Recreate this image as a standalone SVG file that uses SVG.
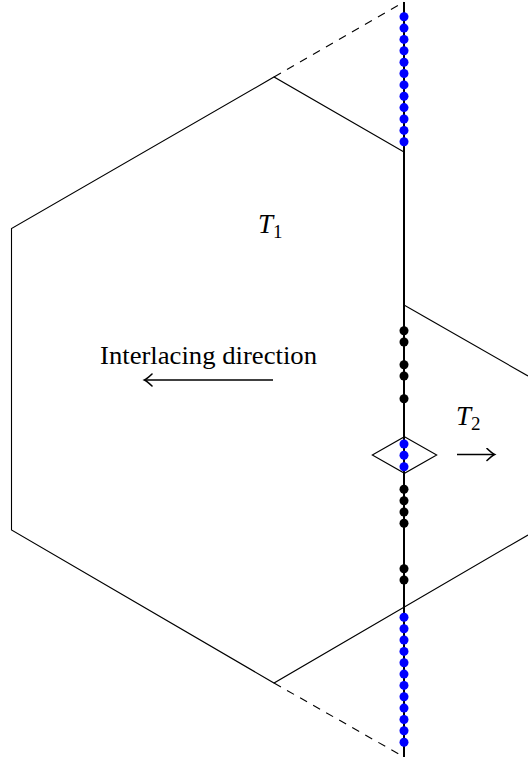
<svg xmlns="http://www.w3.org/2000/svg" width="528" height="759" viewBox="0 0 528 759">
<style>
.edge{fill:none;stroke:#000;stroke-width:1.1}
.dash{fill:none;stroke:#000;stroke-width:1.1;stroke-dasharray:8 7}
.axis{fill:none;stroke:#000;stroke-width:2}
.arr{fill:none;stroke:#000;stroke-width:1.7}
.b{fill:#0000ff}
.k{fill:#000}
</style>
<defs>
<marker id="ah" markerWidth="14" markerHeight="14" refX="0" refY="0" viewBox="-8 -7 10 14" orient="auto" markerUnits="userSpaceOnUse">
<path d="M -7 -6 Q -2 -1.2 0.6 0 Q -2 1.2 -7 6" fill="none" stroke="#000" stroke-width="1.6" stroke-linecap="round"/>
</marker>
</defs>
<g id="T1">
<path class="edge" d="M 404 152 L 274 77 L 11.5 228.5 L 11.5 530 L 274 683 L 528 535"/>
<path class="dash" d="M 274 77 L 404 2"/>
<path class="dash" d="M 274 683 L 404 757"/>
</g>
<g id="T2">
<path class="edge" d="M 404 305 L 528 376"/>
</g>
<g id="window">
<path class="edge" d="M 404.5 436.7 L 436.7 455 L 404.5 473.3 L 372.3 455 Z"/>
</g>
<g id="axis">
<line class="axis" x1="404" y1="2" x2="404" y2="757"/>
</g>
<g id="dots">
<g class="b">
<circle cx="404" cy="16.7" r="4.5"/><circle cx="404" cy="28.1" r="4.5"/><circle cx="404" cy="39.4" r="4.5"/><circle cx="404" cy="50.8" r="4.5"/><circle cx="404" cy="62.2" r="4.5"/><circle cx="404" cy="73.5" r="4.5"/><circle cx="404" cy="84.9" r="4.5"/><circle cx="404" cy="96.3" r="4.5"/><circle cx="404" cy="107.6" r="4.5"/><circle cx="404" cy="119" r="4.5"/><circle cx="404" cy="130.4" r="4.5"/><circle cx="404" cy="141.7" r="4.5"/>
<circle cx="404" cy="444" r="4.5"/><circle cx="404" cy="455.3" r="4.5"/><circle cx="404" cy="466.7" r="4.5"/>
<circle cx="404" cy="617.3" r="4.5"/><circle cx="404" cy="628.7" r="4.5"/><circle cx="404" cy="640" r="4.5"/><circle cx="404" cy="651.4" r="4.5"/><circle cx="404" cy="662.7" r="4.5"/><circle cx="404" cy="674.1" r="4.5"/><circle cx="404" cy="685.4" r="4.5"/><circle cx="404" cy="696.8" r="4.5"/><circle cx="404" cy="708.1" r="4.5"/><circle cx="404" cy="719.5" r="4.5"/><circle cx="404" cy="730.8" r="4.5"/><circle cx="404" cy="742.2" r="4.5"/>
</g>
<g class="k">
<circle cx="404" cy="330.7" r="4.5"/><circle cx="404" cy="342" r="4.5"/><circle cx="404" cy="364.7" r="4.5"/><circle cx="404" cy="376" r="4.5"/><circle cx="404" cy="398.7" r="4.5"/>
<circle cx="404" cy="489.3" r="4.5"/><circle cx="404" cy="500.7" r="4.5"/><circle cx="404" cy="512" r="4.5"/><circle cx="404" cy="523.3" r="4.5"/>
<circle cx="404" cy="568.7" r="4.5"/><circle cx="404" cy="580" r="4.5"/>
</g>
</g>
<g id="arrows">
<line class="arr" x1="273" y1="380" x2="145" y2="380" marker-end="url(#ah)"/>
<line class="arr" x1="457" y1="454.5" x2="494" y2="454.5" marker-end="url(#ah)"/>
</g>
<g id="labels">
<text x="100" y="364" font-family="'Liberation Serif', 'Times New Roman', serif" font-size="26" textLength="217" lengthAdjust="spacingAndGlyphs">Interlacing direction</text>
<text x="258" y="233" font-family="'Liberation Serif', 'Times New Roman', serif" font-size="27" font-style="italic">T<tspan font-style="normal" font-size="19" dy="5">1</tspan></text>
<text x="456" y="425" font-family="'Liberation Serif', 'Times New Roman', serif" font-size="27" font-style="italic">T<tspan font-style="normal" font-size="19" dy="5">2</tspan></text>
</g>
</svg>
